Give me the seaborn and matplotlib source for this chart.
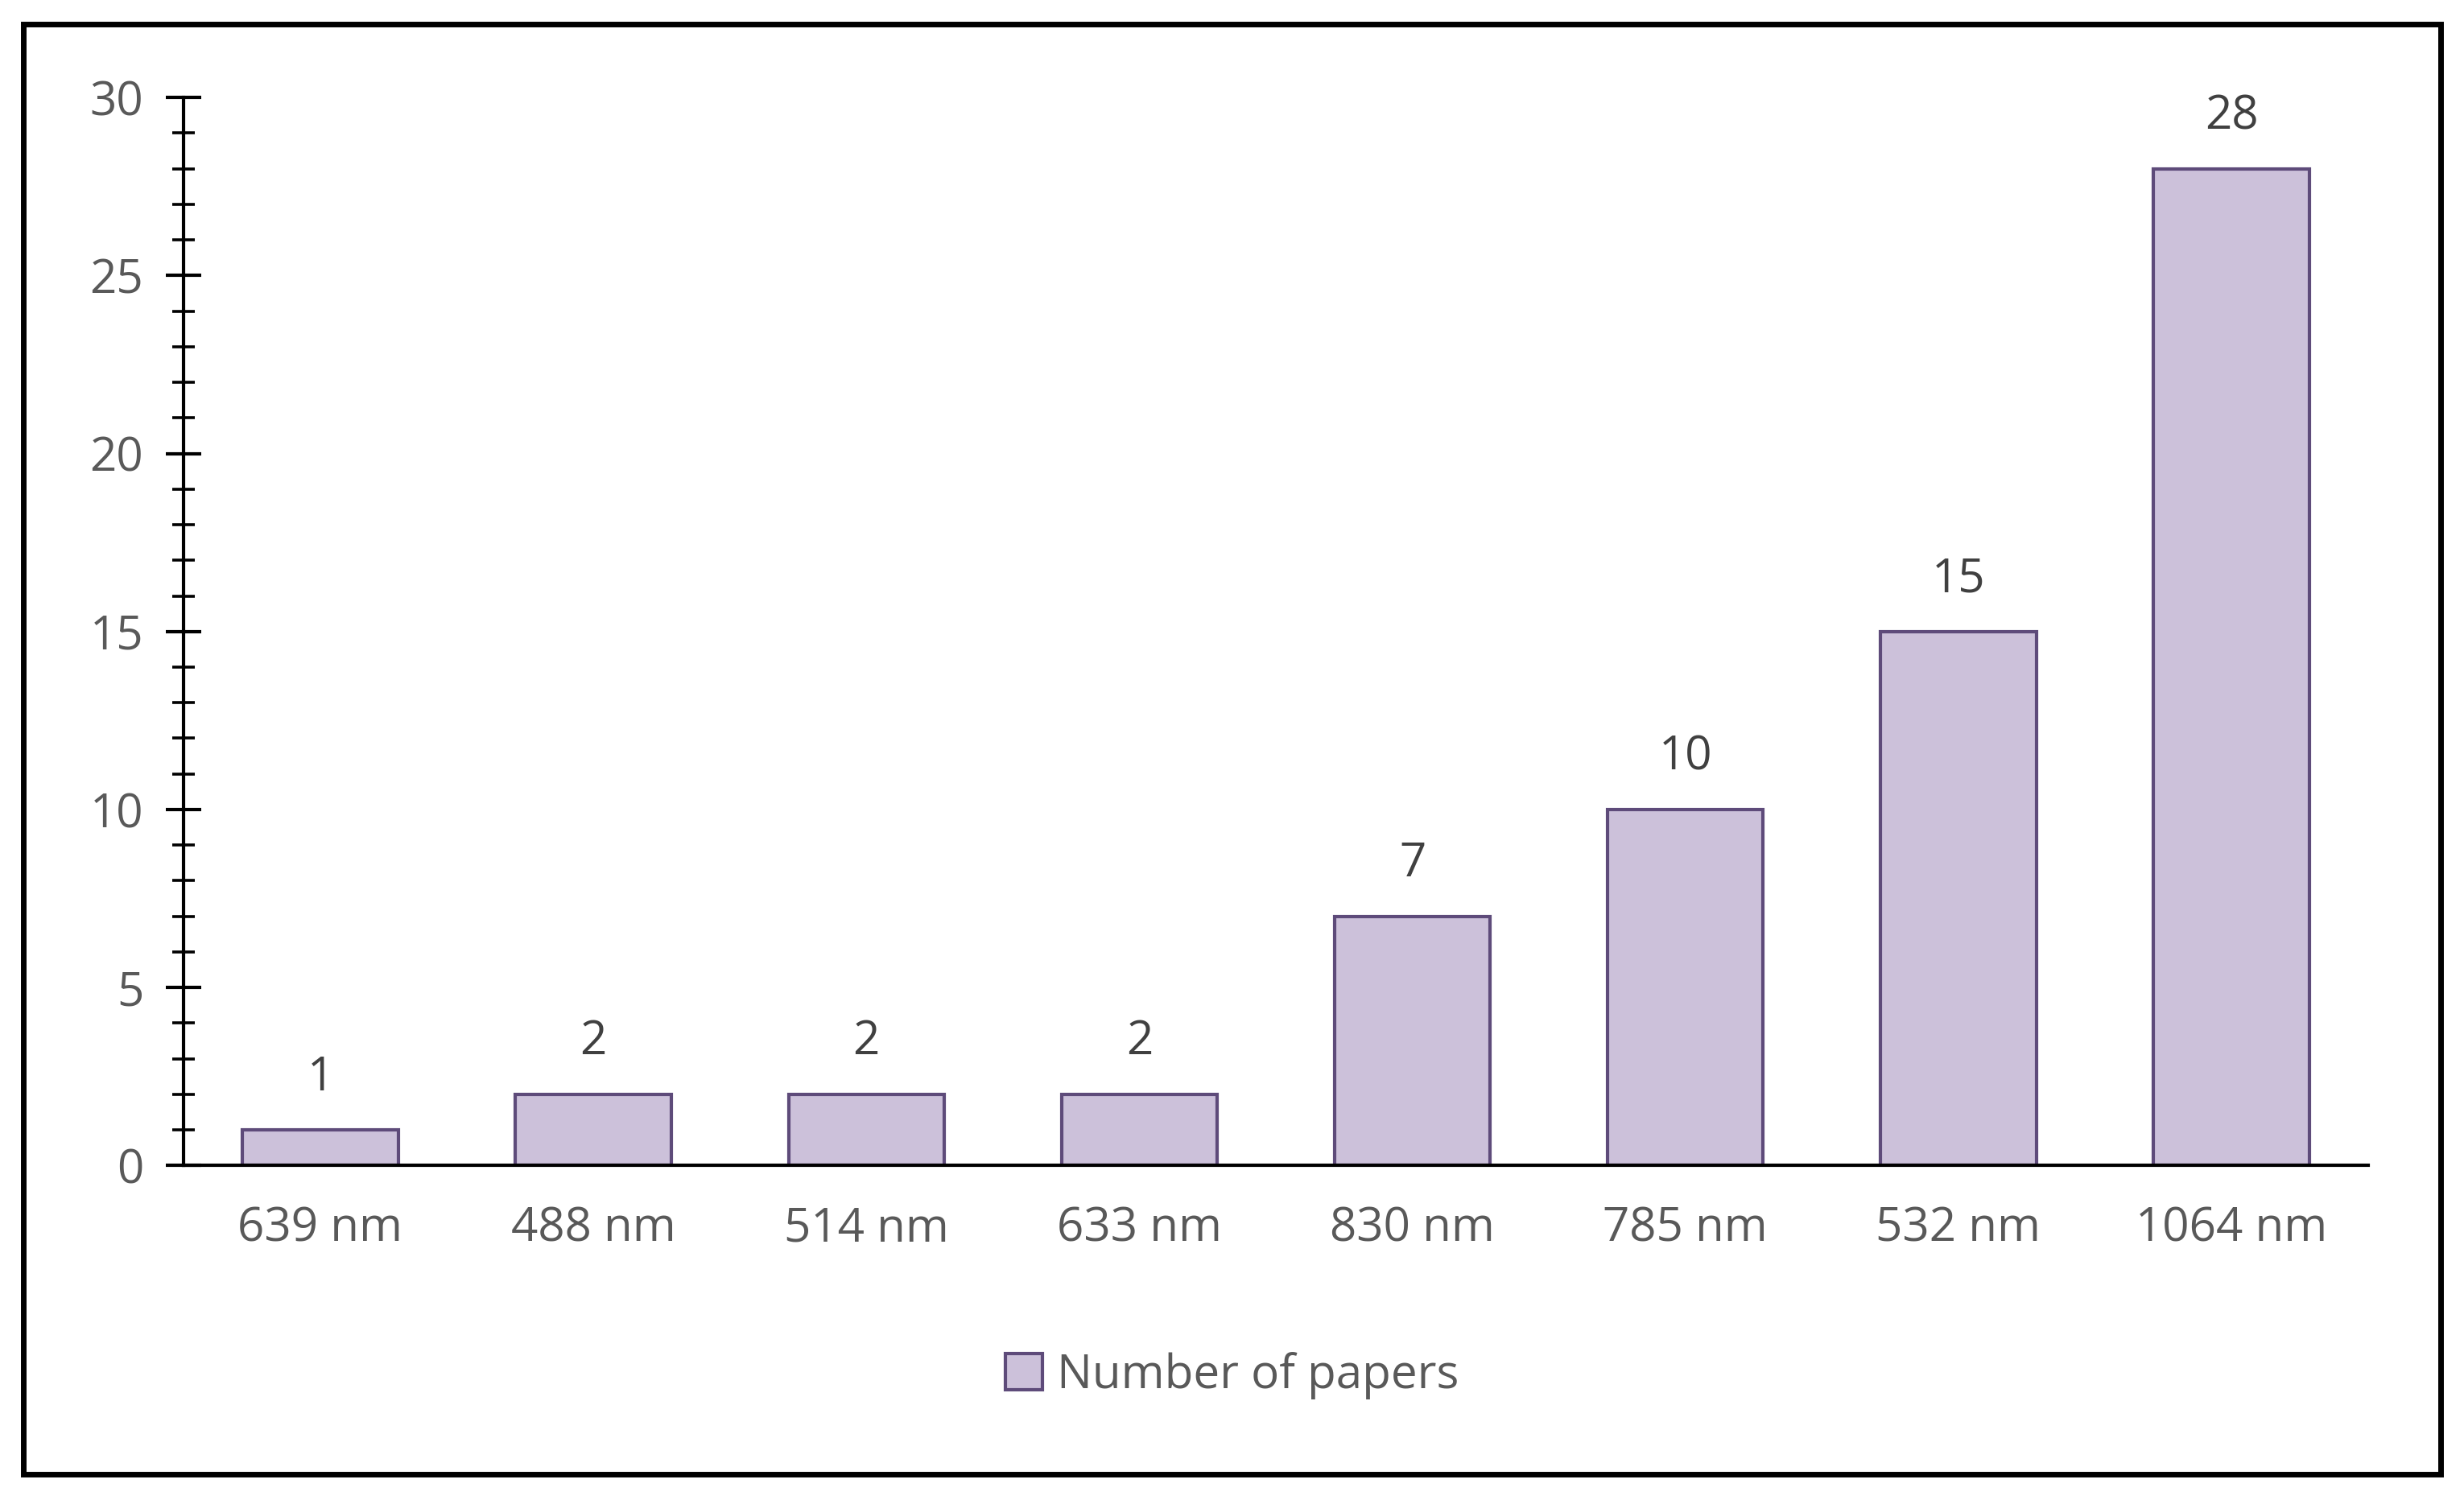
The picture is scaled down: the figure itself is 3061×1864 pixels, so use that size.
import matplotlib
matplotlib.use("Agg")
import matplotlib.pyplot as plt
import seaborn as sns
import pandas as pd
from matplotlib.patches import Rectangle, Patch
from matplotlib.ticker import MultipleLocator

sns.set_style("white")
plt.rcParams['font.family'] = ['Open Sans', 'DejaVu Sans']

wavelengths = ["639 nm", "488 nm", "514 nm", "633 nm", "830 nm", "785 nm", "532 nm", "1064 nm"]
papers = [1, 2, 2, 2, 7, 10, 15, 28]

df = pd.DataFrame({"wavelength": wavelengths, "papers": papers})

fill = "#CCC1DA"
edge = "#5E4B7A"
text_col = "#595959"
fs = 21

fig = plt.figure(figsize=(15.305, 9.32), dpi=200)
ax = fig.add_axes([0.0746, 0.223, 0.8864, 0.712])

sns.barplot(data=df, x="wavelength", y="papers", color=fill, width=0.57,
            edgecolor=edge, linewidth=1.5, saturation=1, ax=ax)

for i, v in enumerate(papers):
    ax.text(i, v + 0.8, str(v), ha="center", va="bottom", fontsize=fs, color="#404040")

ax.set_xlim(-0.5, 7.5)
ax.set_ylim(0, 30)
ax.yaxis.set_major_locator(MultipleLocator(5))
ax.yaxis.set_minor_locator(MultipleLocator(1))
ax.tick_params(axis="y", which="major", direction="inout", length=16, width=1.5,
               color="black", labelsize=fs, labelcolor=text_col, pad=10, left=True)
ax.tick_params(axis="y", which="minor", direction="inout", length=10, width=1.3,
               color="black", left=True)
ax.tick_params(axis="x", length=0, labelsize=fs, labelcolor=text_col, pad=18)
ax.set_xlabel("")
ax.set_ylabel("")
for s in ["top", "right"]:
    ax.spines[s].set_visible(False)
ax.spines["left"].set_color("black")
ax.spines["left"].set_linewidth(1.5)
ax.spines["bottom"].set_color("black")
ax.spines["bottom"].set_linewidth(1.5)

handle = Patch(facecolor=fill, edgecolor=edge, linewidth=1.5)
fig.legend([handle], ["Number of papers"], loc="center", bbox_to_anchor=(0.5, 0.083),
           frameon=False, fontsize=fs, labelcolor=text_col, handlelength=0.8,
           handleheight=0.8, handletextpad=0.3)

fig.patches.append(Rectangle((0.0096, 0.017), 0.981, 0.967, transform=fig.transFigure,
                             fill=False, edgecolor="black", linewidth=2.5))

fig.savefig("out.png", dpi=200)
